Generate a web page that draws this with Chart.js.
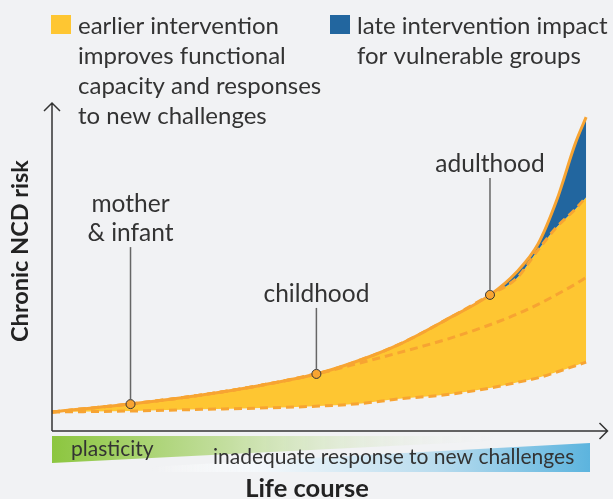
<!DOCTYPE html>
<html>
<head>
<meta charset="utf-8">
<script src="https://cdn.jsdelivr.net/npm/chart.js@4"></script>
<style>
  body { margin: 0; background: #f1f2f4; }
  canvas { display: block; }
</style>
</head>
<body>
<canvas id="grafico" width="613" height="499"></canvas>
<script>
// DADOS
const lifeCourse = [0, 15, 28, 39, 50, 58, 65, 74, 82, 87, 91, 94.5, 98, 100]
const riskTop = [5.8, 8.3, 11.0, 13.9, 17.6, 21.8, 26.4, 34.1, 41.5, 48.5, 57.0, 70.4, 87.8, 95.7]
const riskLateImpact = [5.8, 8.3, 11.0, 13.9, 17.6, 21.8, 26.4, 34.1, 41.5, 46.6, 55.2, 62.2, 67.7, 71.3]
const riskEarlier = [5.8, 8.3, 11.0, 13.9, 17.6, 20.9, 23.9, 28.0, 32.4, 35.6, 38.6, 41.6, 44.8, 46.8]
const riskLowest = [5.8, 6.1, 6.6, 7.0, 7.6, 8.4, 9.8, 11.1, 13.1, 14.8, 16.2, 18.0, 19.9, 21.0]

const stageNames = ['mother\n& infant', 'childhood', 'adulthood']
const stageX = [14.7, 49.5, 82]
const stageY = [8.2, 17.4, 41.5]

const legendLabels = [
    'earlier intervention\nimproves functional\ncapacity and responses\nto new challenges',
    'late intervention impact\nfor vulnerable groups'
]
const axisTitles = ['Life course', 'Chronic NCD risk']
const bandLabels = ['plasticity', 'inadequate response to new challenges']

const ORANGE = '#f7a432'
const YELLOW = '#fec632'
const BLUE = '#22669f'
const TEXT = '#333333'

const pts = (ys) => lifeCourse.map((x, i) => ({ x, y: ys[i] }))

// desenha eixos, legenda, rótulos e faixas
const extras = {
    id: 'extras',
    afterDatasetsDraw(chart) {
        const ctx = chart.ctx
        const a = chart.chartArea
        const xs = chart.scales.x
        const ys = chart.scales.y

        // eixos com setas
        ctx.save()
        ctx.strokeStyle = '#333'
        ctx.lineWidth = 1.5
        ctx.beginPath()
        ctx.moveTo(a.left, a.bottom)
        ctx.lineTo(a.left, a.top)
        ctx.moveTo(a.left - 8, a.top + 8)
        ctx.lineTo(a.left, a.top)
        ctx.lineTo(a.left + 8, a.top + 8)
        ctx.moveTo(a.left, a.bottom)
        ctx.lineTo(a.right, a.bottom)
        ctx.moveTo(a.right - 8, a.bottom - 8)
        ctx.lineTo(a.right, a.bottom)
        ctx.lineTo(a.right - 8, a.bottom + 8)
        ctx.stroke()

        // rótulos das fases
        const rise = [171, 80, 131]
        ctx.font = '24.5px Lato'
        ctx.textAlign = 'center'
        ctx.textBaseline = 'middle'
        stageNames.forEach((name, i) => {
            const px = xs.getPixelForValue(stageX[i])
            const py = ys.getPixelForValue(stageY[i])
            const lines = name.split('\n')
            const last = py - rise[i]
            ctx.fillStyle = TEXT
            lines.forEach((t, j) => {
                ctx.fillText(t, px, last - (lines.length - 1 - j) * 29)
            })
            ctx.strokeStyle = '#666'
            ctx.lineWidth = 1.5
            ctx.beginPath()
            ctx.moveTo(px, last + 14)
            ctx.lineTo(px, py - 4)
            ctx.stroke()
        })

        // legenda
        ctx.font = '24px Lato'
        ctx.textAlign = 'left'
        const colors = [YELLOW, BLUE]
        const lx = [51, 330]
        legendLabels.forEach((lab, i) => {
            ctx.fillStyle = colors[i]
            ctx.fillRect(lx[i], 15, 20, 19)
            ctx.fillStyle = TEXT
            lab.split('\n').forEach((t, j) => ctx.fillText(t, lx[i] + 27, 26 + j * 30))
        })

        // título do eixo y
        ctx.save()
        ctx.translate(20, 251)
        ctx.rotate(-Math.PI / 2)
        ctx.font = 'bold 23.5px Lato'
        ctx.textAlign = 'center'
        ctx.fillStyle = '#222'
        ctx.fillText(axisTitles[1], 0, 0)
        ctx.restore()

        // faixas em gradiente
        const g1 = ctx.createLinearGradient(a.left, 0, 500, 0)
        g1.addColorStop(0, '#8cc63f')
        g1.addColorStop(0.4, '#c5dfa2')
        g1.addColorStop(1, 'rgba(241,242,244,0)')
        ctx.fillStyle = g1
        ctx.beginPath()
        ctx.moveTo(a.left, 436)
        ctx.lineTo(590, 436)
        ctx.lineTo(a.left, 463)
        ctx.closePath()
        ctx.fill()

        const g2 = ctx.createLinearGradient(150, 0, 590, 0)
        g2.addColorStop(0, 'rgba(255,255,255,0)')
        g2.addColorStop(0.25, '#f4f8fb')
        g2.addColorStop(0.65, '#b9dcee')
        g2.addColorStop(1, '#5cb4de')
        ctx.fillStyle = g2
        ctx.beginPath()
        ctx.moveTo(a.left, 472)
        ctx.lineTo(590, 443)
        ctx.lineTo(590, 472)
        ctx.closePath()
        ctx.fill()

        ctx.fillStyle = TEXT
        ctx.font = '21px Lato'
        ctx.textAlign = 'left'
        ctx.fillText(bandLabels[0], 71, 449)
        ctx.fillText(bandLabels[1], 213, 457)

        ctx.font = 'bold 25.5px Lato'
        ctx.textAlign = 'center'
        ctx.fillStyle = '#222'
        ctx.fillText(axisTitles[0], 307, 489)
        ctx.restore()
    }
}

const dashed = {
    borderColor: ORANGE,
    borderWidth: 3,
    borderDash: [8, 5],
    pointRadius: 0,
    cubicInterpolationMode: 'monotone'
}

const config = {
    type: 'line',
    data: {
        datasets: [
            {
                data: pts(riskTop),
                borderColor: ORANGE,
                borderWidth: 3,
                pointRadius: 0,
                cubicInterpolationMode: 'monotone',
                fill: { target: 1, above: BLUE, below: BLUE }
            },
            {
                ...dashed,
                data: pts(riskLateImpact),
                fill: { target: 3, above: YELLOW, below: YELLOW }
            },
            { ...dashed, data: pts(riskEarlier), fill: false },
            { ...dashed, data: pts(riskLowest), fill: false },
            {
                data: stageX.map((x, i) => ({ x, y: stageY[i] })),
                showLine: false,
                pointRadius: 4.5,
                pointBackgroundColor: ORANGE,
                pointBorderColor: '#333',
                pointBorderWidth: 1,
                order: -1
            }
        ]
    },
    options: {
        responsive: false,
        animation: false,
        clip: false,
        layout: { padding: { left: 52, right: 2, top: 103, bottom: 68 } },
        scales: {
            x: { type: 'linear', min: 0, max: 104, display: false },
            y: { min: 0, max: 100, display: false }
        },
        plugins: {
            legend: { display: false },
            tooltip: { enabled: false },
            filler: { drawTime: 'beforeDatasetsDraw' }
        }
    },
    plugins: [extras]
}

const meuGrafico = new Chart(document.getElementById('grafico').getContext('2d'), config)
</script>
</body>
</html>
